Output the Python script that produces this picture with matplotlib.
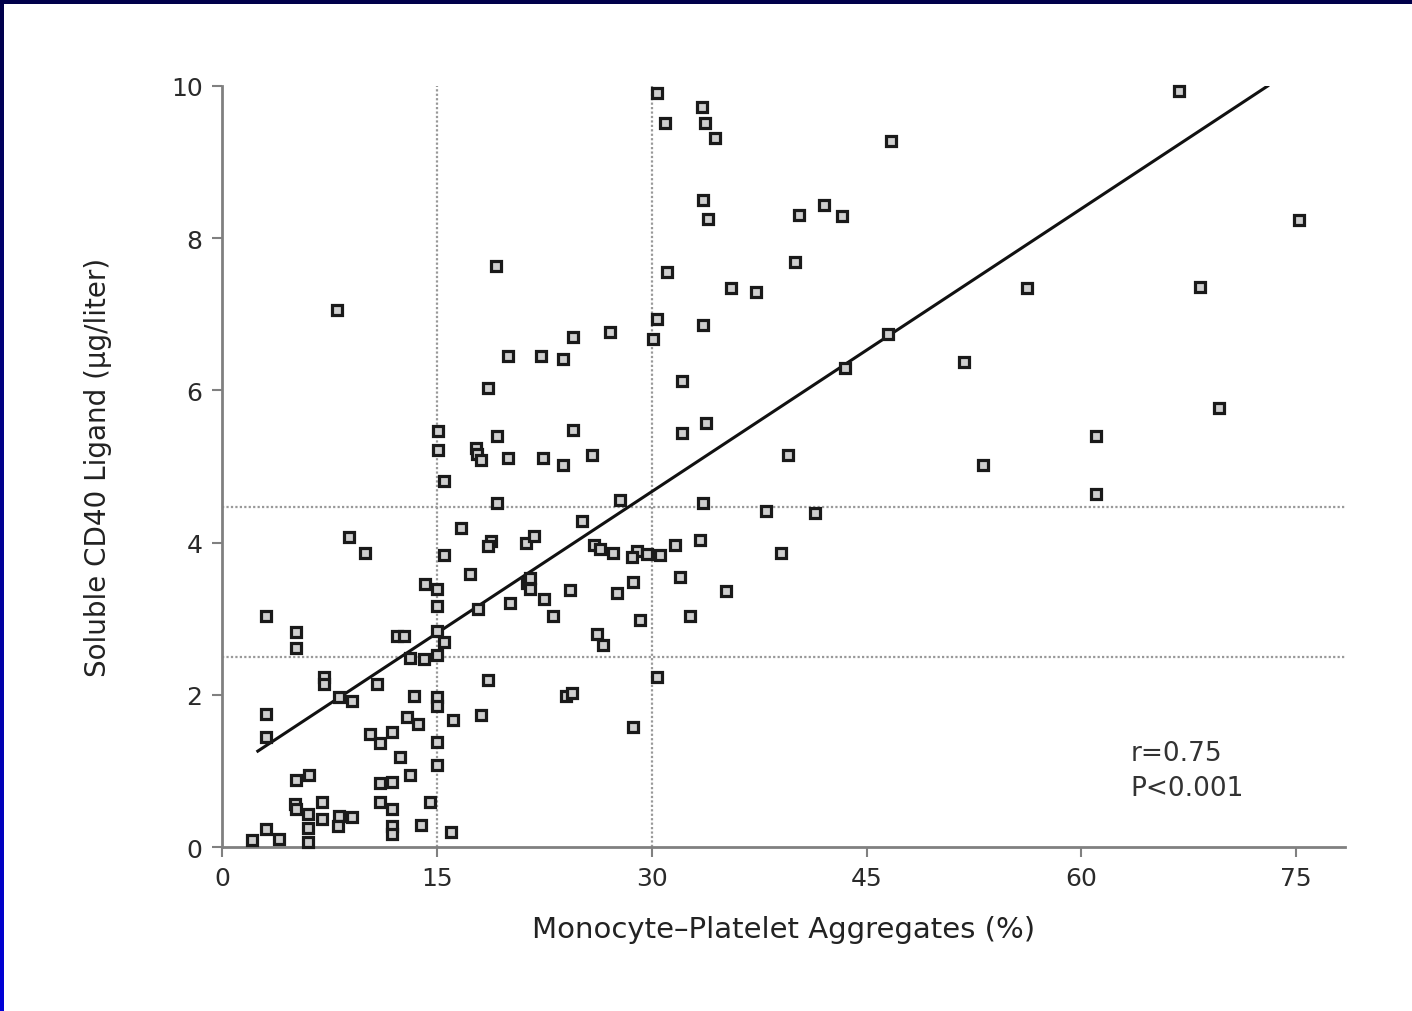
import numpy as np
import matplotlib
matplotlib.use('Agg')
import matplotlib.pyplot as plt

# monocyte-platelet aggregates (%) vs soluble CD40 ligand (ug/liter)
mpa = [30.4, 30.9, 33.5, 33.7, 34.4, 66.8, 46.7, 33.6, 33.9, 40.3, 42.0, 43.3, 75.2,
       19.1, 8.0, 31.1, 40.0, 35.5, 37.3, 56.2, 68.3, 30.4, 33.6, 30.1, 27.1, 24.5,
       20.0, 22.3, 23.8, 46.5, 51.8, 43.5, 18.6, 32.1, 69.6, 15.1, 15.1, 24.5, 19.2,
       32.1, 33.8, 61.0, 17.7, 17.8, 18.1, 20.0, 22.4, 23.8, 25.8, 39.5, 15.5, 53.1,
       61.0, 19.2, 27.8, 33.6, 38.0, 41.4, 25.1, 16.7, 8.9, 10.0, 18.8, 18.6, 21.2,
       21.8, 26.0, 26.4, 27.3, 29.0, 28.6, 29.7, 30.6, 31.6, 33.4, 39.0, 15.5, 17.3,
       14.2, 15.0, 15.0, 17.9, 21.3, 21.5, 21.5, 24.3, 20.1, 22.5, 23.1, 27.6, 28.7,
       32.0, 29.2, 32.7, 35.2, 3.1, 5.2, 5.2, 12.2, 12.7, 13.1, 14.1, 15.0, 15.0,
       15.5, 26.2, 26.6, 7.1, 7.1, 10.8, 8.2, 9.1, 13.4, 15.0, 15.0, 18.6, 24.0,
       24.4, 30.4, 3.1, 3.1, 12.9, 13.7, 16.1, 18.1, 11.9, 10.3, 11.0, 15.0, 28.7,
       12.4, 15.0, 6.1, 5.2, 11.0, 11.9, 13.1, 5.1, 7.0, 5.2, 6.0, 8.2, 9.1, 7.0,
       8.1, 11.0, 11.9, 11.9, 11.9, 14.5, 13.9, 16.0, 3.1, 4.0, 2.1, 6.0, 6.0]
scd40l = [9.91, 9.51, 9.72, 9.51, 9.32, 9.93, 9.28, 8.50, 8.25, 8.30, 8.44, 8.29, 8.24,
          7.63, 7.06, 7.56, 7.69, 7.35, 7.29, 7.35, 7.36, 6.94, 6.86, 6.68, 6.77, 6.70,
          6.45, 6.45, 6.41, 6.74, 6.37, 6.29, 6.03, 6.12, 5.77, 5.47, 5.22, 5.48, 5.40,
          5.44, 5.57, 5.40, 5.24, 5.16, 5.09, 5.11, 5.11, 5.02, 5.15, 5.15, 4.81, 5.02,
          4.64, 4.52, 4.56, 4.52, 4.42, 4.39, 4.28, 4.19, 4.07, 3.86, 4.02, 3.96, 3.99,
          4.09, 3.97, 3.92, 3.86, 3.89, 3.81, 3.85, 3.84, 3.97, 4.03, 3.86, 3.84, 3.59,
          3.46, 3.39, 3.17, 3.13, 3.47, 3.53, 3.39, 3.38, 3.21, 3.26, 3.04, 3.34, 3.48,
          3.55, 2.98, 3.04, 3.36, 3.04, 2.82, 2.62, 2.77, 2.77, 2.48, 2.47, 2.84, 2.52,
          2.69, 2.80, 2.65, 2.24, 2.14, 2.14, 1.97, 1.92, 1.98, 1.97, 1.85, 2.19, 1.98,
          2.02, 2.23, 1.75, 1.45, 1.71, 1.62, 1.67, 1.73, 1.51, 1.48, 1.37, 1.38, 1.58,
          1.18, 1.08, 0.95, 0.88, 0.84, 0.85, 0.94, 0.57, 0.59, 0.50, 0.43, 0.41, 0.39,
          0.37, 0.28, 0.59, 0.50, 0.28, 0.17, 0.59, 0.29, 0.20, 0.24, 0.11, 0.09, 0.25, 0.07]

fit_x = [2.5, 73.0]
fit_y = [1.26, 10.0]
cut_x = [15, 30]
cut_y = [2.5, 4.47]

plt.rcParams['font.family'] = ['DejaVu Sans']

fig = plt.figure(figsize=(14.12, 10.12), dpi=100)
fig.patch.set_facecolor('white')

# blue slide border (top band + left gradient strip)
top = fig.add_axes([0, 1 - 5 / 1012, 1, 5 / 1012])
top.set_axis_off()
top.add_patch(plt.Rectangle((0, 0), 1, 1, color='#00004a', transform=top.transAxes))
left = fig.add_axes([0, 0, 3 / 1412, 1])
grad = np.linspace(0, 1, 200).reshape(-1, 1)
cmap = matplotlib.colors.LinearSegmentedColormap.from_list('b', ['#00004a', '#0000d8'])
left.imshow(grad, aspect='auto', cmap=cmap, origin='upper', extent=[0, 1, 0, 1])
left.set_axis_off()

ax = fig.add_axes([222 / 1412, 1 - 848 / 1012, (1345 - 222) / 1412, (848 - 87) / 1012])
ax.set_xlim(0, 78.4)
ax.set_ylim(0, 10)

for v in cut_x:
    ax.axvline(v, color='#999999', lw=1.6, ls=(0, (1, 1)), zorder=1)
for v in cut_y:
    ax.axhline(v, color='#999999', lw=1.6, ls=(0, (1, 1)), zorder=1)

ax.plot(fit_x, fit_y, color='#111111', lw=2.2, zorder=2)
ax.plot(mpa, scd40l, ls='none', marker='s', ms=7.5, mew=2.3,
        mec='#1a1a1a', mfc='#cfcfcf', zorder=3, clip_on=False)

for s in ['top', 'right']:
    ax.spines[s].set_visible(False)
for s in ['left', 'bottom']:
    ax.spines[s].set_color('#808080')
    ax.spines[s].set_linewidth(2)

ax.set_xticks([0, 15, 30, 45, 60, 75])
ax.set_yticks([0, 2, 4, 6, 8, 10])
ax.tick_params(colors='#808080', labelcolor='#2a2a2a', length=7, width=1.5,
               labelsize=18, pad=7)

ax.set_xlabel('Monocyte\u2013Platelet Aggregates (%)', fontsize=21, color='#222222', labelpad=18)
ax.set_ylabel('Soluble CD40 Ligand (\u03bcg/liter)', fontsize=20, color='#222222', labelpad=42)

ax.text(63.4, 1.0, 'r=0.75\nP<0.001', fontsize=19, color='#333333',
        linespacing=1.45, va='center', ha='left')

fig.savefig('out.png', dpi=100, facecolor='white')
